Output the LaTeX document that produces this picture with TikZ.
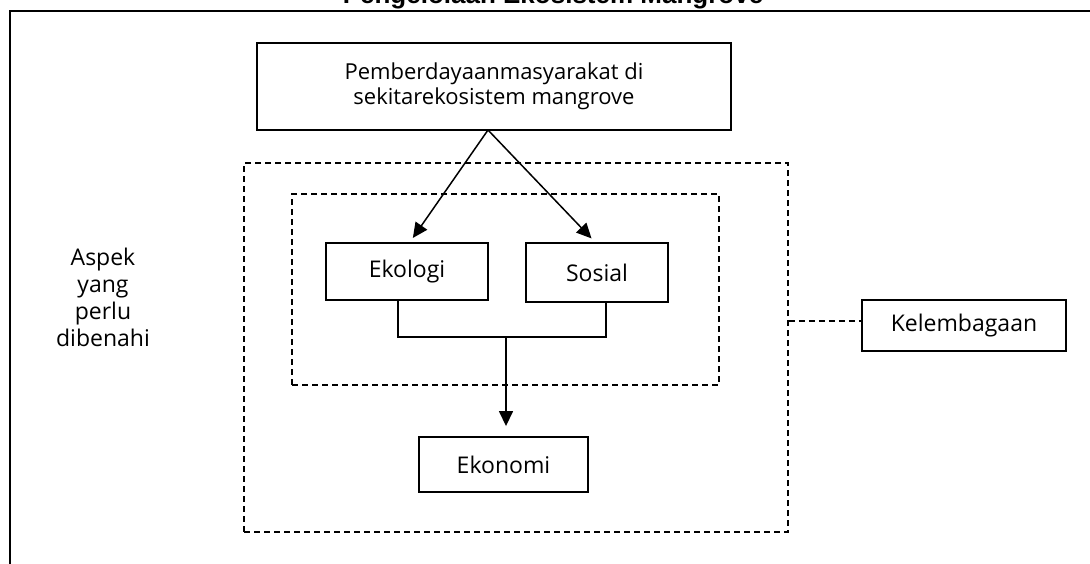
\documentclass[tikz,border=0pt]{standalone}
\usepackage{fontspec}
\setmainfont{Open Sans}
\newfontfamily\titlefont{Liberation Sans}
\usetikzlibrary{arrows.meta,calc}
\tikzset{
  solidbox/.style={draw=black, line width=1.9pt, inner sep=0pt, align=center,
    font=\fontsize{23}{27}\selectfont},
  dashbox/.style={draw=black, line width=1.9pt, dash pattern=on 6pt off 4pt, inner sep=0pt},
  arr/.style={line width=1.5pt, -{Triangle[length=15pt,width=14pt]}},
  link/.style={line width=1.5pt},
  dashlink/.style={line width=1.9pt, dash pattern=on 6pt off 4pt}
}
\begin{document}
\begin{tikzpicture}[x=1pt,y=-1pt]
\useasboundingbox (0,0) rectangle (1090,563);
% title
\node[font=\titlefont\bfseries\fontsize{26}{30}\selectfont, anchor=base, inner sep=0pt] (title) at (553,3) {Pengelolaan Ekosistem Mangrove};
% frame
\coordinate (fbl) at (10,570);
\coordinate (ftl) at (10,11);
\coordinate (ftr) at (1095,11);
\draw[line width=2pt] (fbl) -- (ftl) -- (ftr);
% dashed regions
\node[dashbox, minimum width=544pt, minimum height=369pt] (outer) at (516,347.5) {};
\node[dashbox, minimum width=427pt, minimum height=191pt] (inner) at (505.5,289.5) {};
% boxes
\node[solidbox, minimum width=474pt, minimum height=87pt, font=\fontsize{22}{25}\selectfont] (top) at (494,86.5) {Pemberdayaanmasyarakat di\\sekitarekosistem mangrove};
\node[solidbox, minimum width=162pt, minimum height=57pt] (ekologi) at (407,271.5) {Ekologi};
\node[solidbox, minimum width=142pt, minimum height=59pt] (sosial) at (597,272.5) {Sosial};
\node[solidbox, minimum width=169pt, minimum height=55pt] (ekonomi) at (503.5,464.5) {Ekonomi};
\node[solidbox, minimum width=204pt, minimum height=51pt] (kelem) at (964,325.5) {Kelembagaan};
\node[align=center, inner sep=0pt, font=\fontsize{23}{27}\selectfont] (aspek) at (103,297) {Aspek\\yang\\perlu\\dibenahi};
% connectors
\coordinate (apex) at (488,130);
\draw[arr, shorten >=5pt] (apex) -- ([xshift=3pt]ekologi.north);
\draw[arr, shorten >=5pt] (apex) -- ([xshift=-2pt]sosial.north);
\coordinate (join) at (506,337);
\draw[link] ([xshift=-9pt]ekologi.south) |- (join) -| ([xshift=9pt]sosial.south);
\draw[arr, shorten >=10pt] (join) -- (join |- ekonomi.north);
\draw[dashlink] ([yshift=4.5pt]kelem.west -| outer.east) -- ([yshift=4.5pt]kelem.west);
\end{tikzpicture}
\end{document}
